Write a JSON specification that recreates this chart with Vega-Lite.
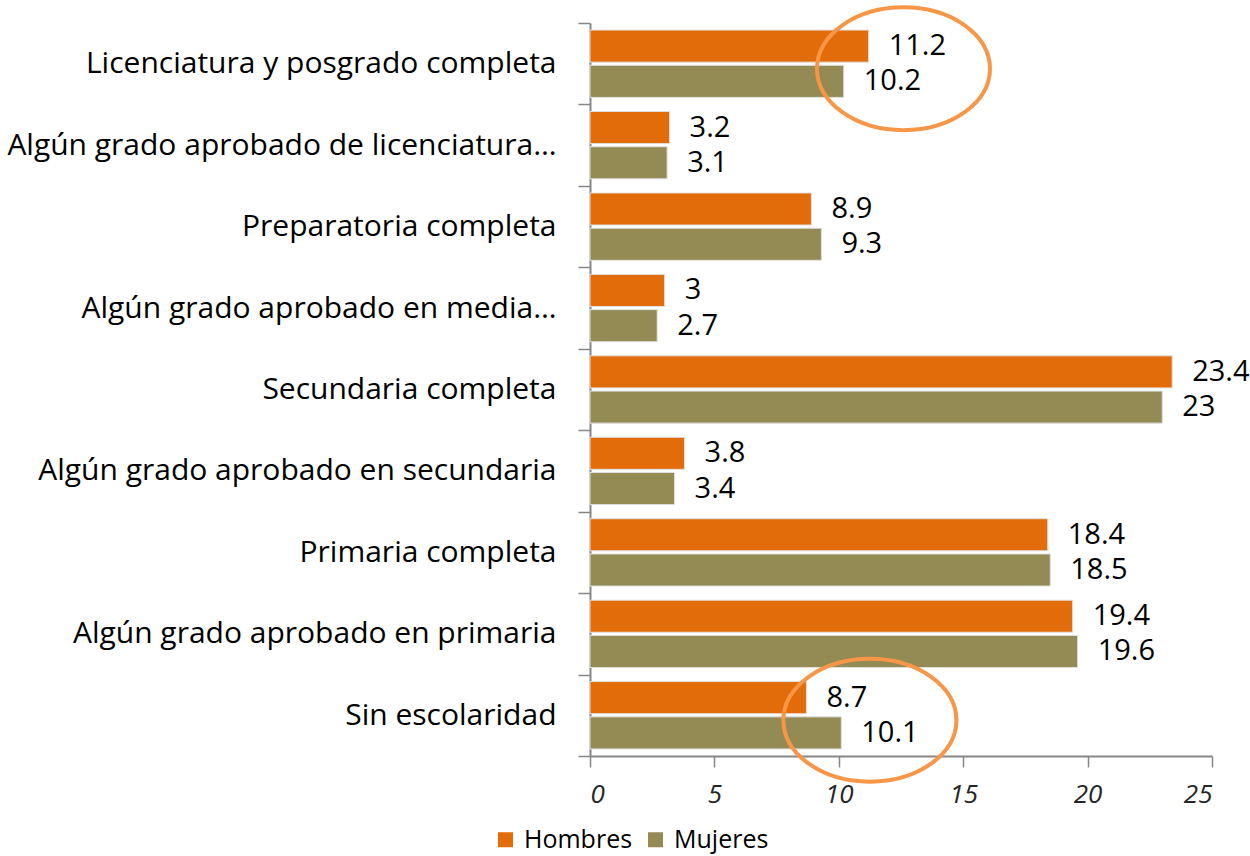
{
  "$schema": "https://vega.github.io/schema/vega-lite/v6.json",
  "width": 622,
  "height": 733,
  "autosize": "none",
  "padding": {"left": 590, "top": 23, "right": 38, "bottom": 100},
  "background": "white",
  "config": {"font": "Open Sans", "view": {"stroke": null}},
  "datasets": {
    "bars": [
      {"nivel": "Licenciatura y posgrado completa", "sexo": "Hombres", "valor": 11.2},
      {"nivel": "Licenciatura y posgrado completa", "sexo": "Mujeres", "valor": 10.2},
      {"nivel": "Algún grado aprobado de licenciatura…", "sexo": "Hombres", "valor": 3.2},
      {"nivel": "Algún grado aprobado de licenciatura…", "sexo": "Mujeres", "valor": 3.1},
      {"nivel": "Preparatoria completa", "sexo": "Hombres", "valor": 8.9},
      {"nivel": "Preparatoria completa", "sexo": "Mujeres", "valor": 9.3},
      {"nivel": "Algún grado aprobado en media…", "sexo": "Hombres", "valor": 3},
      {"nivel": "Algún grado aprobado en media…", "sexo": "Mujeres", "valor": 2.7},
      {"nivel": "Secundaria completa", "sexo": "Hombres", "valor": 23.4},
      {"nivel": "Secundaria completa", "sexo": "Mujeres", "valor": 23},
      {"nivel": "Algún grado aprobado en secundaria", "sexo": "Hombres", "valor": 3.8},
      {"nivel": "Algún grado aprobado en secundaria", "sexo": "Mujeres", "valor": 3.4},
      {"nivel": "Primaria completa", "sexo": "Hombres", "valor": 18.4},
      {"nivel": "Primaria completa", "sexo": "Mujeres", "valor": 18.5},
      {"nivel": "Algún grado aprobado en primaria", "sexo": "Hombres", "valor": 19.4},
      {"nivel": "Algún grado aprobado en primaria", "sexo": "Mujeres", "valor": 19.6},
      {"nivel": "Sin escolaridad", "sexo": "Hombres", "valor": 8.7},
      {"nivel": "Sin escolaridad", "sexo": "Mujeres", "valor": 10.1}
    ],
    "ellipses": [
      {"nivel": "Licenciatura y posgrado completa", "valor": 12.6},
      {"nivel": "Sin escolaridad", "valor": 11.25}
    ]
  },
  "encoding": {
    "y": {
      "field": "nivel",
      "type": "nominal",
      "sort": null,
      "scale": {"padding": 0, "domain": ["Licenciatura y posgrado completa", "Algún grado aprobado de licenciatura…", "Preparatoria completa", "Algún grado aprobado en media…", "Secundaria completa", "Algún grado aprobado en secundaria", "Primaria completa", "Algún grado aprobado en primaria", "Sin escolaridad"]},
      "axis": {
        "title": null,
        "tickBand": "extent",
        "labelFontSize": 30,
        "labelColor": "#000000",
        "labelPadding": 22,
        "labelLimit": 700,
        "tickSize": 12,
        "tickColor": "#868686",
        "domainColor": "#868686",
        "domainWidth": 2,
        "tickWidth": 1.5
      }
    },
    "x": {
      "field": "valor",
      "type": "quantitative",
      "scale": {"domain": [0, 25], "nice": false},
      "axis": {
        "title": null,
        "values": [0, 5, 10, 15, 20, 25],
        "grid": false,
        "tickSize": 11,
        "tickColor": "#868686",
        "domainColor": "#868686",
        "domainWidth": 2,
        "tickWidth": 1.5,
        "labelFontSize": 26,
        "labelFontStyle": "italic",
        "labelColor": "#262626",
        "labelPadding": 14
      }
    }
  },
  "layer": [
    {
      "data": {"name": "bars"},
      "mark": {"type": "bar", "stroke": "#e0e0e0", "strokeWidth": 1},
      "encoding": {
        "yOffset": {"field": "sexo", "type": "nominal", "sort": ["Hombres", "Mujeres"], "scale": {"paddingInner": 0.09, "paddingOuter": 0.2}},
        "color": {
          "field": "sexo",
          "type": "nominal",
          "scale": {"domain": ["Hombres", "Mujeres"], "range": ["#E36C0A", "#948A54"]},
          "legend": {
            "title": null,
            "orient": "none",
            "legendX": -97,
            "legendY": 804,
            "direction": "horizontal",
            "symbolType": "square",
            "symbolSize": 225,
            "symbolStrokeWidth": 0,
            "labelFontSize": 25,
            "labelColor": "#000000",
            "labelOffset": 6,
            "columnPadding": 10
          }
        }
      }
    },
    {
      "data": {"name": "bars"},
      "mark": {"type": "text", "align": "left", "baseline": "middle", "dx": 20, "fontSize": 29, "color": "#000000"},
      "encoding": {
        "yOffset": {"field": "sexo", "type": "nominal", "sort": ["Hombres", "Mujeres"], "scale": {"paddingInner": 0.09, "paddingOuter": 0.2}},
        "text": {"field": "valor", "type": "nominal"}
      }
    },
    {
      "data": {"name": "ellipses"},
      "mark": {
        "type": "point",
        "shape": "M -1 0 A 1 0.71 0 1 1 1 0 A 1 0.71 0 1 1 -1 0 Z",
        "size": 29929,
        "filled": false,
        "stroke": "#F79646",
        "strokeWidth": 4,
        "opacity": 1,
        "yOffset": 5
      },
      "encoding": {}
    }
  ]
}
